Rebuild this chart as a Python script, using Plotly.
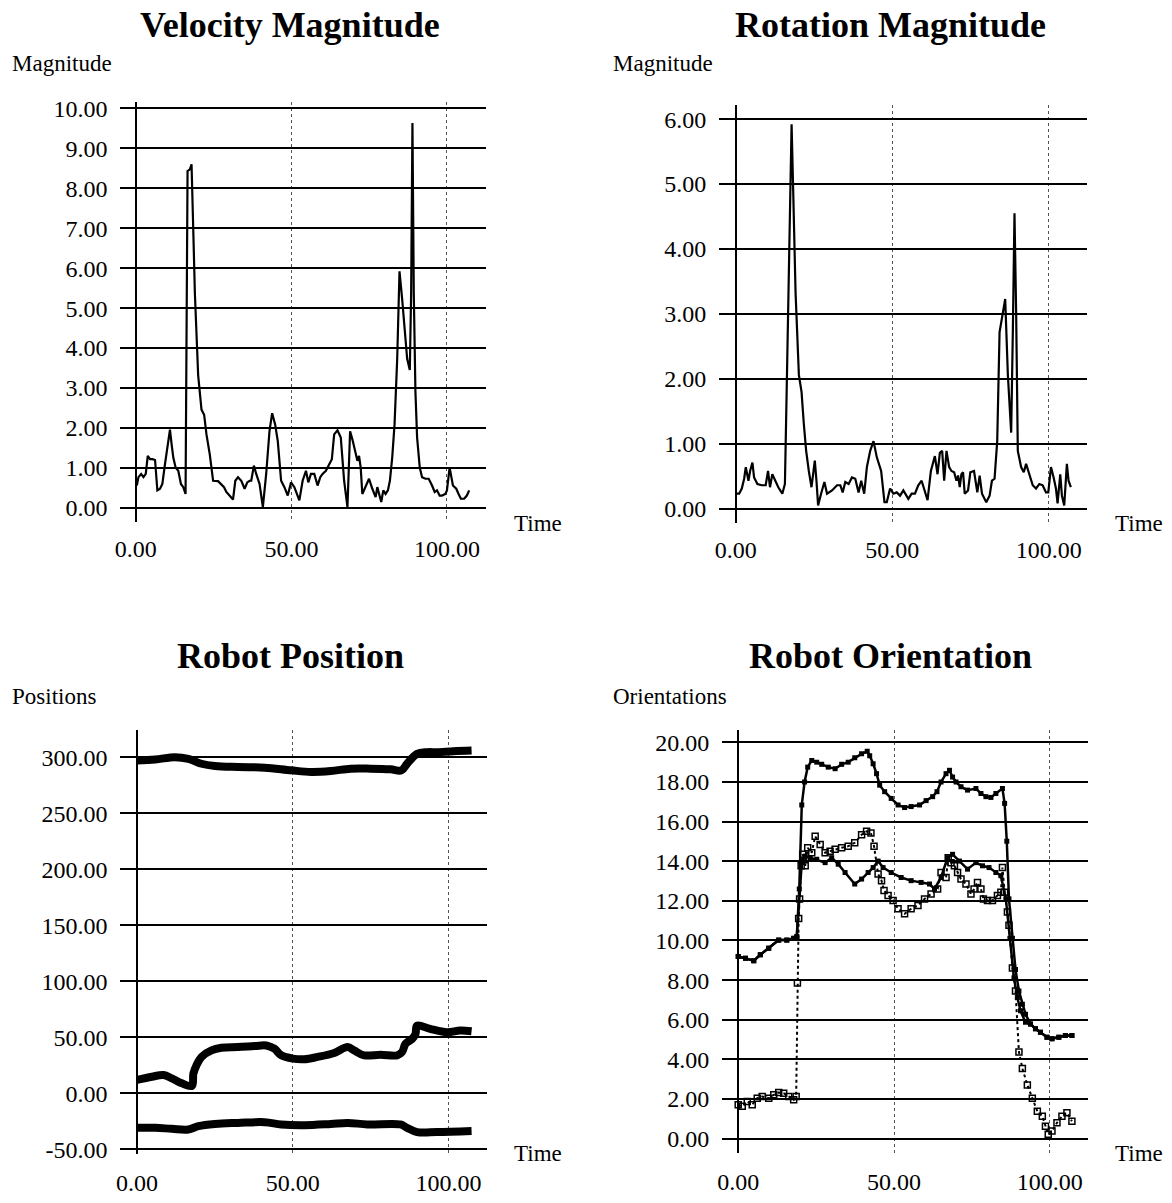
import plotly.graph_objects as go

W, H = 1172, 1203

# ---------------- Data ----------------
vel_t = [0.32, 0.85, 1.71, 2.45, 3.20, 3.84, 4.58, 5.33, 6.18, 6.93, 7.78, 8.53, 9.38, 10.23, 10.98,
         11.51, 12.05, 12.79, 13.65, 14.50, 15.25, 15.99, 16.63, 17.38, 17.91, 18.44, 18.98, 20.04,
         21.11, 21.96, 22.71, 23.77, 24.84, 26.44, 27.51, 28.36, 29.10, 30.17, 31.24, 31.98, 32.84,
         33.90, 34.97, 35.82, 36.57, 37.10, 37.95, 38.70, 39.77, 40.83, 41.90, 42.96, 43.82, 44.78,
         45.63, 46.70, 47.76, 48.83, 49.89, 50.96, 52.56, 53.62, 54.69, 55.44, 56.29, 57.36, 58.42,
         59.28, 60.02, 61.09, 62.15, 63.01, 63.75, 64.82, 65.88, 66.95, 68.02, 68.87, 69.62, 70.68,
         71.22, 71.75, 72.28, 72.81, 73.88, 74.95, 76.01, 77.08, 77.61, 78.36, 78.89, 79.53, 80.28,
         81.02, 81.66, 82.41, 83.16, 84.01, 84.75, 85.61, 86.35, 87.21, 88.06, 88.49, 88.91, 89.34,
         89.87, 90.41, 91.26, 92.00, 93.07, 94.14, 95.20, 96.06, 96.80, 97.65, 98.40, 99.47, 100.00,
         100.85, 101.92, 102.99, 103.73, 104.48, 105.54, 106.40, 107.14]
vel_mag = [0.56, 0.77, 0.85, 0.77, 0.85, 1.30, 1.22, 1.22, 1.20, 0.44, 0.48, 0.60, 1.10, 1.59, 1.96,
           1.59, 1.26, 1.01, 0.93, 0.60, 0.52, 0.35, 8.43, 8.47, 8.60, 7.03, 5.38, 3.32, 2.46, 2.33,
           1.84, 1.34, 0.68, 0.67, 0.60, 0.52, 0.40, 0.31, 0.21, 0.68, 0.77, 0.68, 0.48, 0.64, 0.68,
           0.68, 1.06, 0.85, 0.60, 0.02, 0.85, 1.92, 2.37, 2.09, 1.67, 0.68, 0.52, 0.31, 0.64, 0.52,
           0.19, 0.68, 0.93, 0.64, 0.85, 0.85, 0.56, 0.77, 0.85, 0.93, 1.10, 1.22, 1.84, 1.94, 1.76,
           0.68, 0.02, 1.92, 1.71, 1.38, 1.18, 1.30, 1.01, 0.35, 0.56, 0.73, 0.48, 0.27, 0.52, 0.31,
           0.15, 0.44, 0.35, 0.44, 0.68, 1.26, 2.09, 3.73, 5.92, 5.22, 4.56, 3.73, 3.45, 5.38, 9.63,
           5.38, 2.91, 1.76, 1.01, 0.77, 0.73, 0.73, 0.56, 0.40, 0.44, 0.31, 0.31, 0.35, 0.44, 1.01,
           0.56, 0.48, 0.35, 0.23, 0.23, 0.31, 0.44]

rot_t = [0.3, 1.06, 1.9, 2.65, 3.18, 4.03, 4.56, 5.30, 5.83, 6.89, 8.27, 9.54, 10.29, 10.92, 11.66,
         12.51, 13.57, 14.85, 15.69, 16.44, 17.18, 17.82, 18.35, 19.09, 20.15, 21.0, 21.74, 22.48,
         23.33, 24.18, 24.71, 25.24, 25.77, 26.3, 27.25, 28.31, 29.16, 30.75, 32.34, 33.40, 34.15,
         34.99, 36.06, 37.12, 38.18, 39.24, 40.08, 41.04, 41.89, 42.95, 44.01, 45.07, 46.45, 47.51,
         48.25, 49.31, 50.37, 51.43, 52.49, 53.55, 55.14, 56.2, 57.26, 58.32, 59.39, 60.23, 61.29,
         62.35, 63.63, 64.48, 65.22, 65.96, 66.60, 67.34, 68.19, 68.93, 69.78, 70.52, 71.05, 71.58,
         72.11, 72.64, 73.17, 74.23, 74.97, 76.14, 77.20, 77.94, 78.69, 80.06, 81.12, 81.87, 82.71,
         83.56, 84.31, 85.37, 86.11, 86.96, 88.02, 88.55, 89.08, 89.61, 90.14, 91.2, 92.05, 92.79,
         93.85, 94.91, 95.97, 97.03, 98.09, 99.15, 99.89, 100.74, 101.59, 102.33, 102.86, 103.71,
         104.24, 104.98, 105.83, 106.36, 107.1]
rot_mag = [0.23, 0.23, 0.31, 0.46, 0.64, 0.43, 0.58, 0.71, 0.48, 0.38, 0.36, 0.36, 0.58, 0.33, 0.53,
           0.43, 0.33, 0.23, 0.38, 2.31, 4.35, 5.92, 4.86, 3.33, 2.06, 1.80, 1.30, 0.89, 0.58, 0.33,
           0.53, 0.74, 0.43, 0.05, 0.23, 0.41, 0.23, 0.28, 0.36, 0.36, 0.25, 0.41, 0.38, 0.48, 0.46,
           0.25, 0.43, 0.23, 0.64, 0.89, 1.04, 0.79, 0.58, 0.10, 0.10, 0.31, 0.23, 0.25, 0.20, 0.28,
           0.15, 0.23, 0.23, 0.36, 0.43, 0.28, 0.13, 0.58, 0.81, 0.53, 0.86, 0.89, 0.43, 0.89, 0.64,
           0.58, 0.56, 0.43, 0.51, 0.33, 0.53, 0.56, 0.23, 0.28, 0.56, 0.58, 0.25, 0.51, 0.23, 0.10,
           0.20, 0.43, 0.46, 1.04, 2.72, 3.02, 3.23, 2.06, 1.17, 2.72, 4.55, 3.02, 0.89, 0.64, 0.56,
           0.69, 0.53, 0.36, 0.31, 0.38, 0.36, 0.25, 0.25, 0.64, 0.48, 0.31, 0.08, 0.53, 0.20, 0.05,
           0.69, 0.43, 0.33]

pos_a_t = [0.0, 5.85, 12.2, 16.5, 20.7, 25.0, 32.4, 41.0, 49.5, 55.9, 62.2, 68.6, 75.0, 81.4, 84.9,
           86.7, 89.9, 93.1, 96.3, 101.6, 107.4]
pos_a = [297.1, 297.9, 300.0, 298.5, 294.1, 292.1, 291.2, 290.6, 288.2, 286.8, 287.6, 289.7, 289.7,
         289.1, 288.2, 294.1, 302.9, 304.4, 304.4, 305.3, 305.9]

pos_b_t = [0.0, 4.8, 8.5, 11.2, 14.4, 17.6, 18.1, 19.1, 20.7, 23.9, 27.1, 32.4, 37.8, 41.5, 44.1,
           46.3, 50.0, 53.7, 58.0, 63.3, 67.6, 69.7, 72.9, 78.2, 83.5, 85.1, 86.2, 88.3, 89.4, 89.9,
           94.1, 99.5, 103.7, 107.4]
pos_b = [11.8, 14.7, 16.2, 13.2, 8.8, 6.5, 17.6, 25.0, 32.4, 38.2, 40.6, 41.2, 42.1, 42.6, 39.7,
         33.8, 30.9, 30.3, 32.4, 35.9, 41.2, 38.2, 33.8, 34.4, 33.8, 36.8, 44.1, 48.5, 52.9, 60.3,
         57.4, 54.4, 55.9, 55.3]

pos_c_t = [0.0, 5.9, 11.2, 16.5, 19.7, 25.0, 32.4, 41.0, 46.3, 53.7, 62.2, 67.6, 74.0, 84.6, 86.7,
           89.9, 96.3, 107.4]
pos_c = [-30.9, -30.9, -31.8, -32.4, -29.4, -27.4, -26.5, -25.9, -27.9, -28.5, -27.4, -26.5, -27.9,
         -27.9, -30.9, -34.7, -34.7, -33.8]

ori_a_t = [0, 2.34, 5.0, 7.1, 9.8, 13.0, 15.6, 17.8, 18.8, 19.6, 20.4, 21.3, 22.3, 23.6, 25.2, 26.8,
           28.9, 31.1, 33.2, 35.3, 37.4, 39.6, 41.4, 42.2, 43.3, 44.4, 45.4, 47.0, 49.1, 51.3, 53.4,
           55.5, 58.2, 60.3, 62.4, 63.8, 65.1, 66.7, 67.8, 68.8, 69.9, 71.5, 73.6, 76.3, 77.9, 79.5,
           81.1, 82.7, 84.8, 85.5, 86.2, 86.9, 88.0, 89.0, 90.1, 91.2, 92.2, 93.8, 95.4, 97.0, 99.1,
           100.7, 102.9, 105.0, 107.1]
ori_a = [9.19, 9.11, 8.98, 9.28, 9.61, 10.02, 10.02, 10.11, 10.19, 12.60, 16.84, 18.00, 18.75, 19.09,
         19.00, 18.89, 18.75, 18.67, 18.89, 19.00, 19.22, 19.42, 19.55, 19.33, 18.92, 18.42, 17.84,
         17.51, 17.17, 16.84, 16.71, 16.76, 16.84, 17.06, 17.26, 17.51, 18.00, 18.42, 18.59, 18.25,
         18.00, 17.76, 17.59, 17.67, 17.42, 17.26, 17.22, 17.42, 17.67, 16.92, 15.01, 12.10, 10.11,
         8.53, 7.45, 6.78, 6.28, 5.79, 5.54, 5.37, 5.12, 5.04, 5.12, 5.20, 5.20]

ori_b_t = [0, 2.34, 5.0, 7.1, 9.8, 13.0, 15.6, 17.8, 18.8, 20.4, 21.5, 23.1, 25.2, 27.9, 30.0, 32.1,
           34.3, 37.4, 39.6, 41.7, 43.3, 44.9, 46.5, 49.1, 52.3, 55.5, 58.7, 61.4, 63.0, 65.1, 67.2,
           68.8, 71.0, 73.6, 76.3, 78.4, 80.5, 82.7, 84.3, 85.9, 87.2, 88.5, 89.6, 90.6, 92.2, 93.8,
           95.4, 97.0, 99.1, 100.7, 102.9, 105.0, 107.1]
ori_b = [9.19, 9.11, 8.98, 9.28, 9.61, 10.02, 10.02, 10.11, 10.19, 13.93, 14.26, 14.18, 14.10, 13.93,
         14.18, 13.85, 13.43, 12.85, 13.10, 13.43, 13.68, 14.01, 13.68, 13.43, 13.18, 13.02, 12.93,
         12.85, 12.60, 13.18, 14.18, 14.35, 14.01, 13.60, 13.93, 13.77, 13.68, 13.43, 13.27, 12.10,
         10.11, 8.11, 7.12, 6.45, 5.87, 5.79, 5.54, 5.37, 5.12, 5.04, 5.12, 5.20, 5.20]

ori_c_t = [0, 1.3, 2.9, 4.5, 6.1, 7.7, 9.8, 11.4, 13.0, 14.6, 16.2, 17.8, 18.6, 19.0, 19.4, 19.7, 20.2,
           20.7, 21.5, 22.3, 23.6, 24.7, 26.3, 27.9, 29.5, 31.1, 33.2, 35.3, 37.4, 39.6, 41.2, 42.6,
           43.6, 44.9, 46.0, 46.8, 48.1, 49.7, 51.3, 53.4, 55.5, 57.7, 59.8, 61.9, 64.0, 65.1, 66.7,
           67.4, 68.3, 69.4, 70.4, 71.5, 73.1, 74.7, 75.7, 76.8, 77.9, 78.7, 80.0, 81.6, 83.2, 84.3,
           84.8, 85.5, 86.4, 86.9, 88.0, 89.0, 90.1, 91.2, 92.8, 94.4, 96.0, 97.6, 98.6, 99.5, 100.7,
           102.3, 103.9, 105.5, 107.1]
ori_c = [1.71, 1.63, 1.88, 1.71, 2.04, 2.13, 2.04, 2.21, 2.33, 2.29, 2.13, 1.96, 2.13, 7.86, 11.11,
         12.10, 13.77, 14.35, 13.77, 14.68, 14.43, 15.26, 14.85, 14.43, 14.51, 14.60, 14.68, 14.76,
         14.93, 15.34, 15.51, 15.43, 14.76, 13.35, 13.02, 12.52, 12.27, 12.02, 11.60, 11.35, 11.60,
         11.77, 12.10, 12.35, 12.60, 13.43, 13.18, 14.18, 13.93, 13.77, 13.43, 13.10, 12.85, 12.35,
         12.60, 12.93, 12.60, 12.10, 12.02, 12.02, 12.27, 12.44, 13.68, 12.44, 11.44, 10.77, 8.61,
         7.45, 4.37, 3.54, 2.71, 2.04, 1.38, 1.13, 0.63, 0.22, 0.38, 0.80, 1.13, 1.30, 0.88]

x_ticks = [0, 50, 100]
vel_ticks = [0, 1, 2, 3, 4, 5, 6, 7, 8, 9, 10]
rot_ticks = [0, 1, 2, 3, 4, 5, 6]
pos_ticks = [-50, 0, 50, 100, 150, 200, 250, 300]
ori_ticks = [0, 2, 4, 6, 8, 10, 12, 14, 16, 18, 20]
titles = ["Velocity Magnitude", "Rotation Magnitude", "Robot Position", "Robot Orientation"]
ylabels = ["Magnitude", "Magnitude", "Positions", "Orientations"]
xlabel = "Time"

# ---------------- Figure ----------------
SERIF = "Liberation Serif, Times New Roman, serif"
fig = go.Figure()

fig.add_trace(go.Scatter(x=vel_t, y=vel_mag, mode="lines", line=dict(color="black", width=2.2),
                         xaxis="x", yaxis="y", showlegend=False))
fig.add_trace(go.Scatter(x=rot_t, y=rot_mag, mode="lines", line=dict(color="black", width=2.2),
                         xaxis="x2", yaxis="y2", showlegend=False))
for tt, vv in [(pos_a_t, pos_a), (pos_b_t, pos_b), (pos_c_t, pos_c)]:
    fig.add_trace(go.Scatter(x=tt, y=vv, mode="lines", line=dict(color="black", width=8, shape="spline"),
                             xaxis="x3", yaxis="y3", showlegend=False))
fig.add_trace(go.Scatter(x=ori_b_t, y=ori_b, mode="lines+markers",
                         line=dict(color="black", width=2.5),
                         marker=dict(symbol="square", size=5, color="black"),
                         xaxis="x4", yaxis="y4", showlegend=False))
fig.add_trace(go.Scatter(x=ori_a_t, y=ori_a, mode="lines+markers",
                         line=dict(color="black", width=2.5),
                         marker=dict(symbol="square", size=5, color="black"),
                         xaxis="x4", yaxis="y4", showlegend=False))
fig.add_trace(go.Scatter(x=ori_c_t, y=ori_c, mode="lines+markers",
                         line=dict(color="black", width=2, dash="dot"),
                         marker=dict(symbol="square-open", size=6, color="black", line=dict(width=1.5)),
                         xaxis="x4", yaxis="y4", showlegend=False))


def px_dom_x(a, b):
    return [a / W, b / W]


def px_dom_y(top, bottom):
    return [1 - bottom / H, 1 - top / H]


tickfont = dict(family=SERIF, size=24, color="black")


def xaxis(dom, rng, anchor, standoff=10):
    return dict(domain=dom, range=rng, anchor=anchor, tickvals=x_ticks,
                ticktext=[f"{v:.2f}" for v in x_ticks], tickfont=tickfont,
                showgrid=True, gridcolor="#555555", gridwidth=1, griddash="dot",
                zeroline=True, zerolinecolor="black", zerolinewidth=2,
                showline=False, ticks="", ticklabelstandoff=standoff, fixedrange=True)


def yaxis(dom, rng, anchor, ticks):
    return dict(domain=dom, range=rng, anchor=anchor, tickvals=ticks,
                ticktext=[f"{v:.2f}" for v in ticks],
                tickfont=tickfont, showgrid=True, gridcolor="black", gridwidth=2,
                zeroline=False, showline=False, ticks="", ticklabelstandoff=12, fixedrange=True)


layout = dict(
    width=W, height=H, margin=dict(l=0, r=0, t=0, b=0),
    paper_bgcolor="white", plot_bgcolor="white",
    font=dict(family=SERIF, color="black"),
    xaxis=xaxis(px_dom_x(115, 482), [-4.95, 112.4], "y"),
    yaxis=yaxis(px_dom_y(97, 522), [-0.35, 10.16], "x", vel_ticks),
    xaxis2=xaxis(px_dom_x(717, 1087), [-5.28, 112.4], "y2"),
    yaxis2=yaxis(px_dom_y(100, 523), [-0.22, 6.22], "x2", rot_ticks),
    xaxis3=xaxis(px_dom_x(115, 483), [-5.33, 112.2], "y3", 12),
    yaxis3=yaxis(px_dom_y(733, 1162), [-54.7, 323.8], "x3", pos_ticks),
    xaxis4=xaxis(px_dom_x(720, 1088), [-5.1, 112.4], "y4", 12),
    yaxis4=yaxis(px_dom_y(733, 1160), [-0.7, 20.6], "x4", ori_ticks),
)

ann = []
title_pos = [(285, 19), (889, 19), (286, 658), (889, 658)]
for (cx, cy), t in zip(title_pos, titles):
    ann.append(dict(text=f"<b>{t}</b>", x=cx / W, y=1 - cy / H, xref="paper", yref="paper",
                    xanchor="center", yanchor="middle", showarrow=False,
                    font=dict(family=SERIF, size=36, color="black")))
ylab_pos = [(4, 58), (608, 58), (4, 699), (608, 699)]
for (lx, ly), t in zip(ylab_pos, ylabels):
    ann.append(dict(text=t, x=lx / W, y=1 - ly / H, xref="paper", yref="paper",
                    xanchor="left", yanchor="middle", showarrow=False,
                    font=dict(family=SERIF, size=23, color="black")))
time_pos = [(509, 524), (1113, 524), (509, 1161), (1113, 1161)]
for (lx, ly) in time_pos:
    ann.append(dict(text=xlabel, x=lx / W, y=1 - ly / H, xref="paper", yref="paper",
                    xanchor="left", yanchor="middle", showarrow=False,
                    font=dict(family=SERIF, size=23, color="black")))
layout["annotations"] = ann

fig.update_layout(**layout)
fig.write_html("out.html")
